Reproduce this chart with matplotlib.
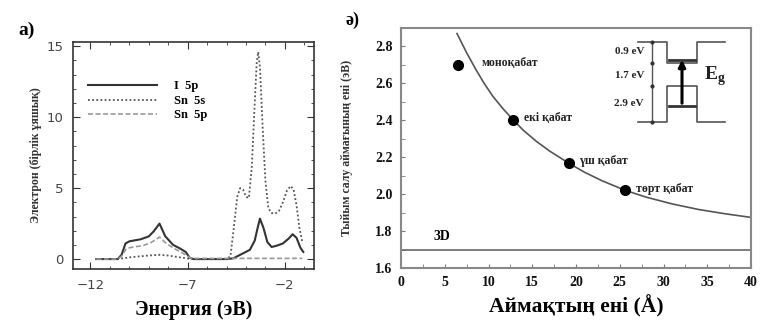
import numpy as np
import matplotlib
matplotlib.use('Agg')
import matplotlib.pyplot as plt
from matplotlib.ticker import MultipleLocator

SERIF = 'Liberation Serif'

# a) partial density of states
i5p_x = [-11.7, -10.6, -10.4, -10.2, -10.0, -9.8, -9.4, -9.0, -8.75, -8.45, -8.15, -7.75, -7.4, -7.1, -6.9, -6.7,
         -5.0, -4.65, -4.3, -3.8, -3.55, -3.4, -3.28, -3.1, -2.9, -2.68, -2.4, -2.1, -1.8, -1.6, -1.4, -1.2, -1.05]
i5p_y = [0, 0, 0.3, 1.1, 1.25, 1.3, 1.4, 1.6, 1.95, 2.5, 1.6, 1.0, 0.75, 0.5, 0.1, 0,
         0, 0.05, 0.3, 0.65, 1.3, 2.2, 2.85, 2.2, 1.2, 0.85, 0.95, 1.1, 1.45, 1.75, 1.5, 0.8, 0.5]

sn5s_x = [-11.7, -10.6, -10.0, -9.0, -8.5, -8.0, -7.3, -6.8, -5.0, -4.8, -4.6, -4.45, -4.3, -4.15, -4.0, -3.85,
          -3.7, -3.55, -3.45, -3.37, -3.28, -3.15, -3.0, -2.85, -2.7, -2.5, -2.3, -2.1, -1.9, -1.7, -1.55,
          -1.4, -1.25, -1.1]
sn5s_y = [0, 0, 0.12, 0.25, 0.3, 0.25, 0.1, 0, 0, 0.2, 2.5, 4.4, 5.0, 4.9, 4.4, 4.3,
          6.5, 11.0, 13.8, 14.6, 13.5, 9.5, 5.5, 3.6, 3.25, 3.2, 3.4, 4.0, 4.8, 5.15, 4.9,
          3.8, 2.2, 1.2]

sn5p_x = [-11.7, -10.6, -10.4, -10.15, -9.8, -9.3, -8.9, -8.45, -8.1, -7.7, -7.3, -7.0, -6.8, -5.0, -1.1]
sn5p_y = [0, 0, 0.2, 0.75, 0.85, 0.95, 1.15, 1.55, 1.1, 0.75, 0.45, 0.2, 0.05, 0.05, 0.05]

# ә) band gap vs well width
layer_w = [6.5, 12.8, 19.2, 25.6]
layer_eg = [2.70, 2.40, 2.17, 2.02]
layer_names = ['моноқабат', 'екі қабат', 'үш қабат', 'төрт қабат']
fit_x = [6.4, 7.5, 8.5, 9.5, 10.5, 11.6, 12.8, 14, 15.5, 17, 19.2, 21, 23, 25.6, 28, 31, 34, 37, 40]
fit_y = [2.87, 2.766, 2.68, 2.60, 2.53, 2.466, 2.403, 2.345, 2.285, 2.233, 2.167, 2.118, 2.072, 2.021,
         1.984, 1.947, 1.917, 1.894, 1.874]
bulk_eg = 1.7

W, H = 761, 325
fig = plt.figure(figsize=(W / 100, H / 100), dpi=100)


def box(x0, y0, x1, y1):
    return [x0 / W, 1 - y1 / H, (x1 - x0) / W, (y1 - y0) / H]


# ---- left panel
ax1 = fig.add_axes(box(73, 42, 314, 269))
ax1.plot(i5p_x, i5p_y, color='#333333', lw=1.5, label='I  5p')
ax1.plot(sn5s_x, sn5s_y, color='#555555', lw=1.3, ls=(0, (1, 1.3)), label='Sn  5s')
ax1.plot(sn5p_x, sn5p_y, color='#999999', lw=1.2, ls=(0, (3, 1.5)), label='Sn  5p')
ax1.set_xlim(-12.9, -0.5)
ax1.set_ylim(-0.7, 15.3)
ax1.set_xticks([-12, -7, -2])
ax1.set_yticks([0, 5, 10, 15])
ax1.xaxis.set_minor_locator(MultipleLocator(1))
ax1.yaxis.set_minor_locator(MultipleLocator(1))
ax1.tick_params(which='both', direction='in', top=True, right=True, colors='#333333',
                labelcolor='#444444', labelsize=9.5)
ax1.tick_params(which='major', length=5, pad=7)
ax1.tick_params(which='minor', length=2.5)
for s in ax1.spines.values():
    s.set_color('#333333')
    s.set_linewidth(1.2)
ax1.set_xlabel('Энергия (эВ)', family=SERIF, weight='bold', fontsize=14.5, labelpad=6)
ax1.set_ylabel('Электрон (бірлік ұяшық)', family=SERIF, weight='bold', fontsize=8.5, labelpad=3,
               color='#333333')
leg = ax1.legend(loc='upper left', bbox_to_anchor=(0.015, 0.88), frameon=False, handlelength=5.5,
                 handletextpad=1.4, labelspacing=0.2, prop={'family': SERIF, 'weight': 'bold', 'size': 9})

# ---- right panel
ax2 = fig.add_axes(box(401, 28, 751, 268))
ax2.plot(fit_x, fit_y, color='#555555', lw=1.2)
ax2.plot(layer_w, layer_eg, 'o', color='black', ms=7)
for xv, yv, name in zip(layer_w, layer_eg, layer_names):
    dx = 2.7 if name == 'моноқабат' else 1.2
    ax2.text(xv + dx, yv + 0.01, name, family=SERIF, weight='bold', fontsize=8.5, va='center', color='#222222')
ax2.axhline(bulk_eg, color='#666666', lw=1.2)
ax2.text(3.7, 1.77, '3D', family=SERIF, weight='bold', fontsize=10, va='center')
ax2.set_xlim(0, 40)
ax2.set_ylim(1.6, 2.9)
ax2.set_xticks(range(0, 41, 5))
ax2.set_yticks([1.6, 1.8, 2.0, 2.2, 2.4, 2.6, 2.8])
ax2.xaxis.set_minor_locator(MultipleLocator(2.5))
ax2.yaxis.set_minor_locator(MultipleLocator(0.1))
ax2.tick_params(which='both', direction='in', colors='#777777', labelcolor='#111111')
ax2.tick_params(which='major', length=3, pad=6)
ax2.tick_params(which='minor', length=3)
for lab in ax2.get_xticklabels() + ax2.get_yticklabels():
    lab.set_family(SERIF)
    lab.set_weight('bold')
    lab.set_fontsize(10)
for s in ax2.spines.values():
    s.set_color('#888888')
    s.set_linewidth(1.5)
ax2.set_xlabel('Аймақтың ені (Å)', family=SERIF, weight='bold', fontsize=15.5, labelpad=4)
ax2.set_ylabel('Тыйым салу аймағының ені (эВ)', family=SERIF, weight='bold', fontsize=8.5, labelpad=16,
               color='#333333')

# ---- overlay in pixel space: panel letters and band sketch
ov = fig.add_axes([0, 0, 1, 1])
ov.set_xlim(0, W)
ov.set_ylim(H, 0)
ov.axis('off')
ov.patch.set_alpha(0)
ov.text(18, 30, 'a)', family=SERIF, weight='bold', fontsize=14, va='center', ha='left')
ov.text(345, 20, 'ә)', family=SERIF, weight='bold', fontsize=13, va='center', ha='left')

lc = '#555555'
ov.plot([638, 667, 667, 697, 697, 725], [42, 42, 63, 63, 42, 42], color=lc, lw=1.2)
ov.plot([638, 667, 667, 697, 697, 725], [122, 122, 86, 86, 122, 122], color=lc, lw=1.2)
ov.plot([652, 652], [42, 122], color=lc, lw=1.0)
ov.plot([652] * 4, [42, 63, 86, 122], 'o', color='#333333', ms=2)
ov.plot([669, 695], [60, 60], color='#333333', lw=2)
ov.plot([669, 695], [106, 106], color='#333333', lw=2)
ov.annotate('', xy=(682, 57), xytext=(682, 106),
            arrowprops=dict(arrowstyle='-|>', color='black', lw=2.2, mutation_scale=10))
for yv, t in zip([52, 75, 104], ['0.9 eV', '1.7 eV', '2.9 eV']):
    ov.text(644, yv, t, family=SERIF, weight='bold', fontsize=8, ha='right', va='center', color='#222222')
ov.text(704, 76, r'E$_\mathregular{g}$', family=SERIF, weight='bold', fontsize=14, va='center', ha='left',
        color='#222222')

fig.savefig('out.png', dpi=100)
